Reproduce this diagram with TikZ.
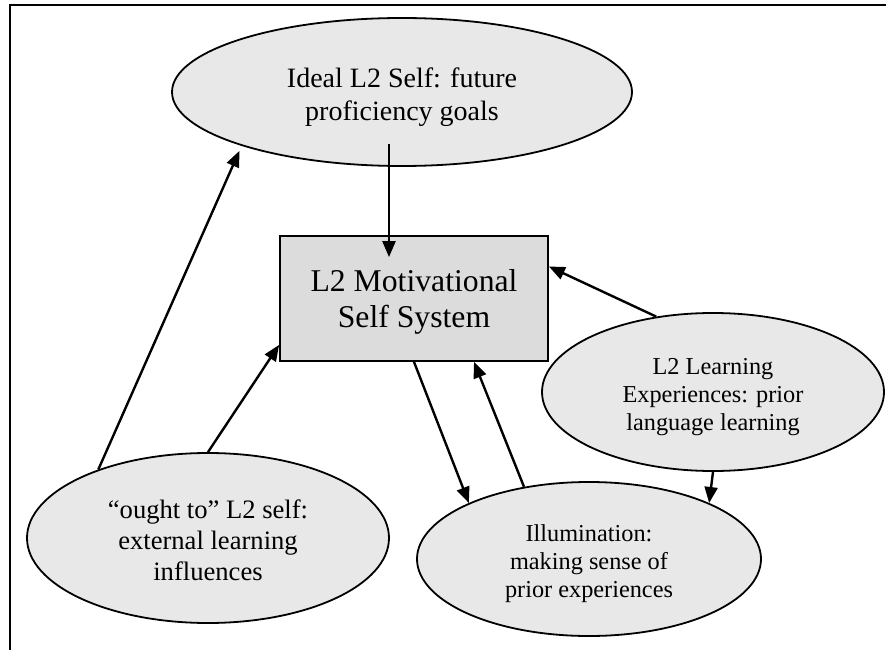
\documentclass[tikz,border=0pt]{standalone}
\usepackage{fontspec}
\setmainfont{Liberation Serif}
\usetikzlibrary{shapes.geometric,arrows.meta}
\definecolor{ovalfill}{HTML}{E8E8E8}
\definecolor{boxfill}{HTML}{DCDCDC}
\tikzset{
  oval/.style={ellipse, draw, line width=1.8pt, fill=ovalfill, inner sep=0pt},
  caption/.style={inner sep=0pt, align=center},
  hugetext/.style={font=\fontsize{28}{33}\selectfont},
  bigtext/.style={font=\fontsize{26.6}{31}\selectfont},
  smalltext/.style={font=\fontsize{24.3}{28}\selectfont},
  corebox/.style={rectangle, draw, line width=1.8pt, fill=boxfill, inner sep=0pt,
    minimum width=268pt, minimum height=125pt},
  arr/.style={line width=2.4pt, -{Triangle[length=16pt,width=13pt]}},
  frame/.style={line width=2pt}
}
\begin{document}
\begin{tikzpicture}[x=1pt,y=-1pt]
\useasboundingbox (0,0) rectangle (886,650);
% open frame along the top and left
\draw[frame] (10,650) -- (10,5) -- (886,5);

% shapes
\node[oval, minimum width=460pt, minimum height=148pt] (ideal) at (402,92) {};
\node[corebox] (core) at (414,298.5) {};
\node[oval, minimum width=342pt, minimum height=158pt] (exper) at (713,392) {};
\node[oval, minimum width=344pt, minimum height=154pt] (illum) at (589,559) {};
\node[oval, minimum width=362pt, minimum height=170pt] (ought) at (208,538) {};

% texts
\node[caption, hugetext] (idealtxt) at ([yshift=-5pt]ideal.center)
  {Ideal L2 Self: future\\proficiency goals};
\node[caption, font=\fontsize{31.7}{36}\selectfont] (coretxt) at ([yshift=-3pt]core.center)
  {L2 Motivational\\Self System};
\node[caption, smalltext] (expertxt) at ([yshift=-5pt]exper.center)
  {L2 Learning\\Experiences: prior\\language learning};
\node[caption, smalltext] (illumtxt) at ([yshift=-4.5pt]illum.center)
  {Illumination:\\making sense of\\prior experiences};
\node[caption, bigtext] (oughttxt) at ([yshift=-2.5pt]ought.center)
  {“ought to” L2 self:\\external learning\\influences};

% connectors
\draw[arr] ([xshift=-13pt,yshift=23pt]ideal.south) -- ([xshift=-25pt,yshift=-22pt]core.north);
\draw[arr] (exper.127) -- ([yshift=32pt]core.east);
\draw[arr] (core.south) -- (illum.155);
\draw[arr] (illum.132) -- ([xshift=60pt]core.south);
\draw[arr] (exper.south) -- (illum.25);
\draw[arr] (ought.148) -- ([xshift=-9pt,yshift=-3pt]ideal.200);
\draw[arr] (ought.north) -- ([yshift=17pt]core.south west);
\end{tikzpicture}
\end{document}
